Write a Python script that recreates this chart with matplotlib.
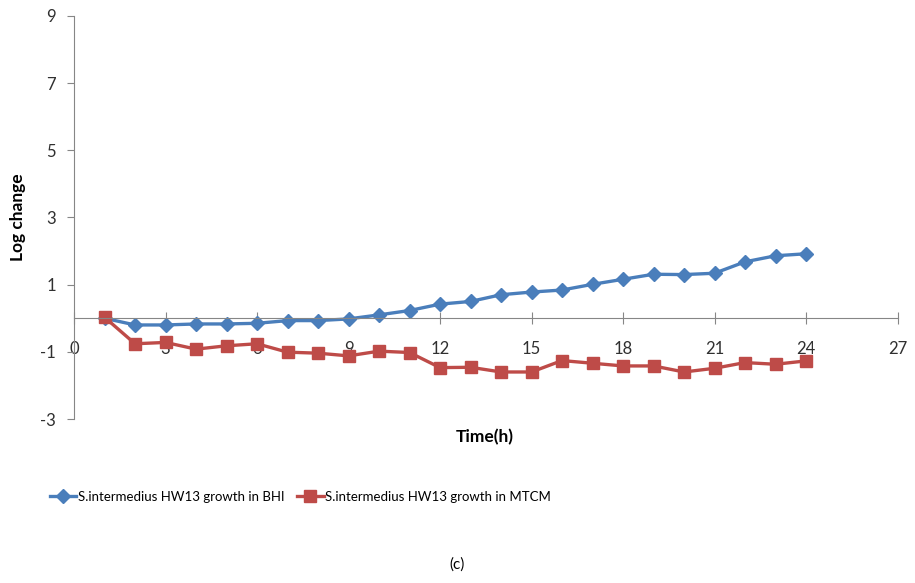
import matplotlib.pyplot as plt
import numpy as np

plt.rcParams['font.family'] = ['Lato', 'DejaVu Sans']
plt.rcParams['axes.unicode_minus'] = False

hours = np.arange(1, 25)
bhi = [0.0, -0.2, -0.2, -0.17, -0.17, -0.15, -0.07, -0.07, -0.02, 0.1, 0.23, 0.42,
       0.5, 0.7, 0.78, 0.84, 1.01, 1.16, 1.31, 1.3, 1.34, 1.68, 1.86, 1.92]
mtcm = [0.03, -0.76, -0.72, -0.92, -0.82, -0.76, -1.01, -1.04, -1.12, -0.98, -1.02, -1.47,
        -1.46, -1.6, -1.6, -1.26, -1.34, -1.42, -1.42, -1.6, -1.49, -1.32, -1.37, -1.27]
xticks = np.arange(0, 28, 3)
yticks = np.arange(-3, 10, 2)

fig = plt.figure(figsize=(9.15, 5.83), dpi=100)
ax = fig.add_axes([0.0809, 0.2813, 0.9, 0.6913])

ax.plot(hours, bhi, color='#4A7EBB', lw=2.4, marker='D', ms=7,
        label='S.intermedius HW13 growth in BHI')
ax.plot(hours, mtcm, color='#BE4B48', lw=2.4, marker='s', ms=9,
        label='S.intermedius HW13 growth in MTCM')

ax.set_xlim(0, 27)
ax.set_ylim(-3, 9)
ax.set_xticks(xticks)
ax.set_yticks(yticks)

for s in ['top', 'right']:
    ax.spines[s].set_visible(False)
ax.spines['bottom'].set_position(('data', 0))
for s in ['left', 'bottom']:
    ax.spines[s].set_color('#868686')
ax.tick_params(axis='x', direction='inout', length=9, color='#868686', pad=12,
               labelsize=12, labelcolor='#303030')
ax.tick_params(axis='y', direction='out', length=5, color='#868686', pad=8,
               labelsize=12, labelcolor='#303030')

ax.set_ylabel('Log change', fontweight='bold', fontsize=12.5, labelpad=10)
fig.text(485 / 915, 1 - 437 / 583, 'Time(h)', fontweight='bold', fontsize=12.5,
         ha='center', va='center')

fig.legend(loc='center left', bbox_to_anchor=(38 / 915, 1 - 497 / 583), ncol=2,
           frameon=False, fontsize=9.5, handlelength=2.0, columnspacing=1.0,
           handletextpad=0.1)

fig.text(0.5, 1 - 565 / 583, '(c)', fontsize=11, ha='center', va='center')

plt.savefig('out.png')
